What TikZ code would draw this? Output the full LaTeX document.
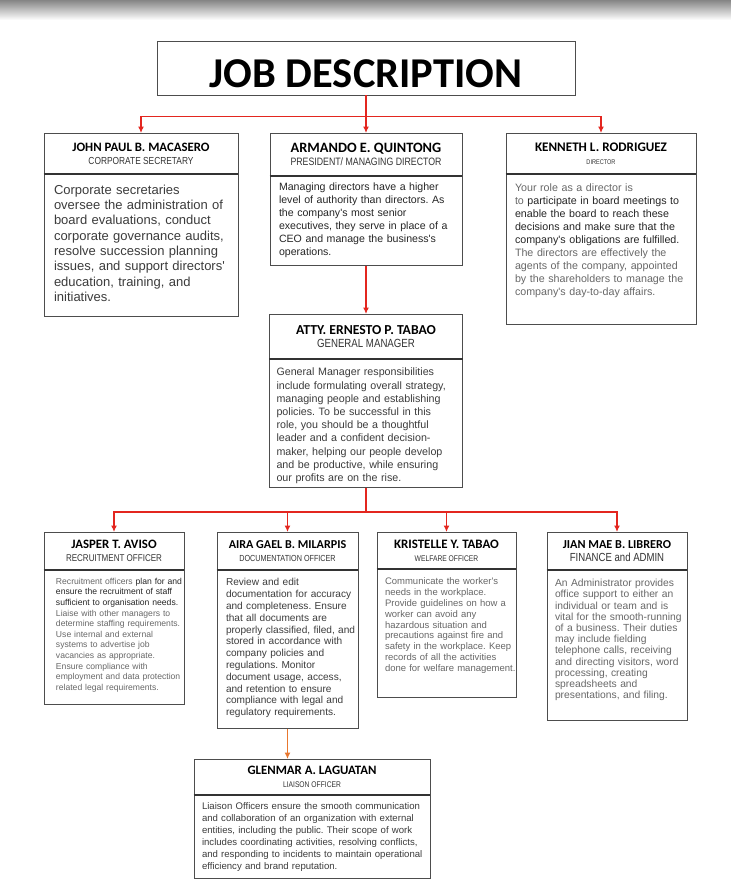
\documentclass[tikz,border=0pt]{standalone}
\usepackage{fontspec}
\usetikzlibrary{positioning,arrows.meta}
\newfontfamily\namefam{Carlito}
\newfontfamily\rolefam[FakeStretch=0.82]{Liberation Sans}
\newfontfamily\bodyfam{Liberation Sans}
\definecolor{boxline}{HTML}{4D4D4D}
\definecolor{linkred}{HTML}{E3261F}
\definecolor{linkorange}{HTML}{E8772E}
\definecolor{txtdark}{HTML}{262626}
\definecolor{txtmid}{HTML}{3C3C3C}
\definecolor{txtgray}{HTML}{686868}
\definecolor{rolegray}{HTML}{333333}
% name line and role line of a header
\newcommand{\jobhead}[4]{{\namefam\bfseries\fontsize{#1}{#1}\selectfont #2}\\{\rolefam\color{rolegray}\fontsize{#3}{#3}\selectfont #4}}
\newcommand{\bodyfont}[2]{\bodyfam\fontsize{#1}{#2}\selectfont\frenchspacing}
\newcommand{\txtmargin}[1]{\leftskip=#1\relax\rightskip=-30pt plus 1fil\relax}
\tikzset{
  head/.style={draw=boxline, line width=0.9pt, anchor=north, inner sep=0pt, align=center, font=\fontsize{10}{13}\selectfont},
  body/.style={draw=boxline, line width=0.9pt, inner sep=0pt, align=left, below=0pt of #1},
  divider/.style={draw=black!80, line width=1.5pt},
  link/.style={draw=linkred, line width=1.6pt},
  orangelink/.style={draw=linkorange, line width=1.6pt}
}
\begin{document}
\begin{tikzpicture}[x=1pt, y=1pt, >={Latex[length=6.5pt,width=6pt]}]
  \fill[white] (0,0) rectangle (731,-887);
  \useasboundingbox (0,0) rectangle (731,-887);
  \shade[top color=black!48, bottom color=white] (0,0) rectangle (731,-20);

  % title
  \node[draw=boxline, line width=0.9pt, minimum width=418pt, inner sep=0pt, text height=46pt, text depth=8pt,
        font=\namefam\bfseries\fontsize{42.5}{42.5}\selectfont] (title) at (366,-68) {JOB DESCRIPTION};

  % board level
  \node[head, minimum width=194pt, minimum height=40pt] (secr) at (141,-133)
    {\jobhead{12.8}{JOHN PAUL B. MACASERO}{10.2}{CORPORATE SECRETARY}};
  \node[body=secr, text width=194pt, text height=20pt, text depth=122pt, text=txtmid, font=\bodyfont{13}{15.3}] (secrb)
    {\txtmargin{10pt}Corporate secretaries\\
     oversee the administration of\\
     board evaluations, conduct\\
     corporate governance audits,\\
     resolve succession planning\\
     issues, and support directors'\\
     education, training, and\\
     initiatives.\par};

  \node[head, minimum width=192pt, minimum height=42pt] (pres) at (366,-133)
    {\jobhead{14.3}{ARMANDO E. QUINTONG}{10.7}{PRESIDENT/ MANAGING DIRECTOR}};
  \node[body=pres, text width=192pt, text height=14pt, text depth=75pt, text=txtdark, font=\bodyfont{10.6}{13}] (presb)
    {\txtmargin{9pt}Managing directors have a higher\\
     level of authority than directors. As\\
     the company's most senior\\
     executives, they serve in place of a\\
     CEO and manage the business's\\
     operations.\par};

  \node[head, minimum width=190pt, minimum height=40pt] (dirc) at (601,-133)
    {\jobhead{13.1}{KENNETH L. RODRIGUEZ}{6.8}{DIRECTOR}};
  \node[body=dirc, text width=190pt, text height=17pt, text depth=133pt, text=txtgray, font=\bodyfont{10.7}{13}] (dircb)
    {\txtmargin{9pt}Your role as a director is\\
     to \color{txtdark}participate in board meetings to\\
     enable the board to reach these\\
     decisions and make sure that the\\
     company's obligations are fulfilled.\\
     \color{txtgray}The directors are effectively the\\
     agents of the company, appointed\\
     by the shareholders to manage the\\
     company's day-to-day affairs.\par};

  % general manager
  \node[head, minimum width=193pt, minimum height=44pt] (gm) at (366,-314)
    {\jobhead{13.7}{ATTY. ERNESTO P. TABAO}{11.8}{GENERAL MANAGER}};
  \node[body=gm, text width=193pt, text height=16.5pt, text depth=111.5pt, text=txtmid, font=\bodyfont{10.7}{13.2}] (gmb)
    {\txtmargin{7pt}General Manager responsibilities\\
     include formulating overall strategy,\\
     managing people and establishing\\
     policies. To be successful in this\\
     role, you should be a thoughtful\\
     leader and a confident decision-\\
     maker, helping our people develop\\
     and be productive, while ensuring\\
     our profits are on the rise.\par};

  % officers
  \node[head, minimum width=140pt, minimum height=37pt] (recr) at (114,-532)
    {\jobhead{12.8}{JASPER T. AVISO}{9.8}{RECRUITMENT OFFICER}};
  \node[body=recr, text width=140pt, text height=14pt, text depth=120pt, text=txtgray, font=\bodyfont{8.6}{10.6}] (recrb)
    {\txtmargin{12pt}Recruitment officers \color{txtdark}plan for and\\
     ensure the recruitment of staff\\
     sufficient to organisation needs.\\
     \color{txtgray}Liaise with other managers to\\
     determine staffing requirements.\\
     Use internal and external\\
     systems to advertise job\\
     vacancies as appropriate.\\
     Ensure compliance with\\
     employment and data protection\\
     related legal requirements.\par};

  \node[head, minimum width=141pt, minimum height=37pt] (docu) at (287.5,-532)
    {\jobhead{12.1}{AIRA GAEL B. MILARPIS}{8.8}{DOCUMENTATION OFFICER}};
  \node[body=docu, text width=141pt, text height=15.5pt, text depth=142.5pt, text=txtmid, font=\bodyfont{10.1}{11.8}] (docub)
    {\txtmargin{9pt}Review and edit\\
     documentation for accuracy\\
     and completeness. Ensure\\
     that all documents are\\
     properly classified, filed, and\\
     stored in accordance with\\
     company policies and\\
     regulations. Monitor\\
     document usage, access,\\
     and retention to ensure\\
     compliance with legal and\\
     regulatory requirements.\par};

  \node[head, minimum width=139pt, minimum height=36pt] (welf) at (446.5,-532)
    {\jobhead{12.9}{KRISTELLE Y. TABAO}{8.2}{WELFARE OFFICER}};
  \node[body=welf, text width=139pt, text height=15.6pt, text depth=112.4pt, text=txtgray, font=\bodyfont{9.5}{10.8}] (welfb)
    {\txtmargin{8pt}Communicate the worker's\\
     needs in the workplace.\\
     Provide guidelines on how a\\
     worker can avoid any\\
     hazardous situation and\\
     precautions against fire and\\
     safety in the workplace. Keep\\
     records of all the activities\\
     done for welfare management.\par};

  \node[head, minimum width=140pt, minimum height=37pt] (fina) at (617,-532)
    {\jobhead{12.2}{JIAN MAE B. LIBRERO}{11.7}{FINANCE and ADMIN}};
  \node[body=fina, text width=140pt, text height=16.4pt, text depth=133.6pt, text=txtgray, font=\bodyfont{10.3}{11.2}] (finab)
    {\txtmargin{8pt}An Administrator provides\\
     office support to either an\\
     individual or team and is\\
     vital for the smooth-running\\
     of a business. Their duties\\
     may include fielding\\
     telephone calls, receiving\\
     and directing visitors, word\\
     processing, creating\\
     spreadsheets and\\
     presentations, and filing.\par};

  % liaison
  \node[head, minimum width=236pt, minimum height=35pt] (liai) at (312,-759)
    {\jobhead{12.8}{GLENMAR A. LAGUATAN}{8.2}{LIAISON OFFICER}};
  \node[body=liai, text width=236pt, text height=14.5pt, text depth=68.5pt, text=txtmid, font=\bodyfont{9.6}{12}] (liaib)
    {\txtmargin{8pt}Liaison Officers ensure the smooth communication\\
     and collaboration of an organization with external\\
     entities, including the public. Their scope of work\\
     includes coordinating activities, resolving conflicts,\\
     and responding to incidents to maintain operational\\
     efficiency and brand reputation.\par};

  \foreach \n in {secr,pres,dirc,gm,recr,docu,welf,fina,liai}
    \draw[divider] (\n.south west) -- (\n.south east);

  % connectors
  \draw[link] (title.south) -- ++(0,-21) coordinate (topbus);
  \foreach \n in {secr,pres,dirc}
    \draw[link,->] (topbus) -| (\n.north);
  \draw[link,->] (presb.south) -- (gm.north);
  \draw[link] (gmb.south) -- ++(0,-24) coordinate (lowbus);
  \foreach \n in {recr,docu,welf,fina}
    \draw[link,->] (lowbus) -| (\n.north);
  \draw[orangelink,->] (docub.south) -- (docub.south |- liai.north);
\end{tikzpicture}
\end{document}
